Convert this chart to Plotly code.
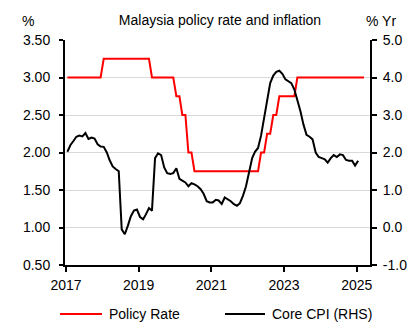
import pandas as pd
import plotly.graph_objects as go

# Monthly observations, January 2017 onwards
policy_rate = [
    3.00, 3.00, 3.00, 3.00, 3.00, 3.00, 3.00, 3.00, 3.00, 3.00, 3.00, 3.00,  # 2017
    3.25, 3.25, 3.25, 3.25, 3.25, 3.25, 3.25, 3.25, 3.25, 3.25, 3.25, 3.25,  # 2018
    3.25, 3.25, 3.25, 3.25, 3.00, 3.00, 3.00, 3.00, 3.00, 3.00, 3.00, 3.00,  # 2019
    2.75, 2.75, 2.50, 2.50, 2.00, 2.00, 1.75, 1.75, 1.75, 1.75, 1.75, 1.75,  # 2020
    1.75, 1.75, 1.75, 1.75, 1.75, 1.75, 1.75, 1.75, 1.75, 1.75, 1.75, 1.75,  # 2021
    1.75, 1.75, 1.75, 1.75, 2.00, 2.00, 2.25, 2.25, 2.50, 2.50, 2.75, 2.75,  # 2022
    2.75, 2.75, 2.75, 2.75, 3.00, 3.00, 3.00, 3.00, 3.00, 3.00, 3.00, 3.00,  # 2023
    3.00, 3.00, 3.00, 3.00, 3.00, 3.00, 3.00, 3.00, 3.00, 3.00, 3.00, 3.00,  # 2024
    3.00, 3.00, 3.00,                                                        # 2025
]

core_cpi = [
    2.02, 2.20, 2.30, 2.42, 2.45, 2.43, 2.52, 2.36, 2.40, 2.37, 2.22, 2.16,  # 2017
    2.15, 2.00, 1.80, 1.63, 1.56, 1.50, -0.05, -0.18, 0.05, 0.30, 0.45, 0.48,  # 2018
    0.28, 0.22, 0.35, 0.52, 0.45, 1.85, 1.98, 1.93, 1.60, 1.45, 1.43, 1.45,  # 2019
    1.58, 1.30, 1.25, 1.20, 1.10, 1.18, 1.15, 1.10, 1.02, 0.90, 0.70, 0.67,  # 2020
    0.67, 0.74, 0.72, 0.63, 0.80, 0.76, 0.70, 0.62, 0.58, 0.65, 0.85, 1.10,  # 2021
    1.50, 1.85, 2.02, 2.12, 2.45, 2.95, 3.45, 3.85, 4.05, 4.15, 4.18, 4.10,  # 2022
    3.95, 3.90, 3.85, 3.68, 3.40, 3.10, 2.75, 2.47, 2.42, 2.35, 2.00, 1.88,  # 2023
    1.85, 1.82, 1.73, 1.85, 1.93, 1.88, 1.95, 1.93, 1.80, 1.78, 1.78, 1.65,  # 2024
    1.78,                                                                    # 2025
]

# Mid-month observation dates
policy_dates = pd.date_range("2017-01-01", periods=len(policy_rate), freq="MS") + pd.Timedelta(days=14)
cpi_dates = pd.date_range("2017-01-01", periods=len(core_cpi), freq="MS") + pd.Timedelta(days=14)

x_ticks = ["2017-01-01", "2019-01-01", "2021-01-01", "2023-01-01", "2025-01-01"]
x_tick_text = ["2017", "2019", "2021", "2023", "2025"]

rhs_ticks = [-1, 0, 1, 2, 3, 4, 5]
rhs_tick_text = ["-1.0", "0.0", "1.0", "2.0", "3.0", "4.0", "5.0"]

series_names = ["Policy Rate", "Core CPI (RHS)"]
series_colors = ["#ff0000", "#000000"]

FONT = "Arial, 'Liberation Sans', sans-serif"
W, H = 413, 329
ML, MR, MT, MB = 65, 43, 40, 64
PW, PH = W - ML - MR, H - MT - MB


def px_x(px):
    return (px - ML) / PW


def px_y(py):
    return (H - MB - py) / PH


fig = go.Figure()
fig.add_trace(go.Scatter(
    x=policy_dates, y=policy_rate, mode="lines", name=series_names[0],
    line=dict(color=series_colors[0], width=2), yaxis="y",
))
fig.add_trace(go.Scatter(
    x=cpi_dates, y=core_cpi, mode="lines", name=series_names[1],
    line=dict(color=series_colors[1], width=2), yaxis="y2",
))

axis_font = dict(family=FONT, size=14, color="#000000")

fig.update_layout(
    width=W, height=H,
    margin=dict(l=ML, r=MR, t=MT, b=MB, autoexpand=False),
    paper_bgcolor="white", plot_bgcolor="white",
    showlegend=False,
    font=dict(family=FONT, size=14, color="#000000"),
    title=dict(
        text="Malaysia policy rate and inflation",
        x=220 / W, xanchor="center", xref="container",
        y=1 - 20 / H, yanchor="middle", yref="container",
        font=dict(family=FONT, size=14, color="#000000"),
    ),
    xaxis=dict(
        type="date", range=["2016-12-22", "2025-05-14"],
        tickvals=x_ticks, ticktext=x_tick_text,
        ticks="outside", ticklen=5, tickwidth=2, tickcolor="#000000",
        showline=True, linecolor="#000000", linewidth=2,
        showgrid=False, zeroline=False, tickfont=axis_font,
        ticklabelstandoff=1, automargin=False,
    ),
    yaxis=dict(
        range=[0.5, 3.5], dtick=0.5, tick0=0.5, tickformat=".2f",
        ticks="outside", ticklen=4, tickwidth=2, tickcolor="#000000",
        showline=True, linecolor="#000000", linewidth=2,
        showgrid=True, gridcolor="#d9d9d9", gridwidth=1,
        zeroline=False, tickfont=axis_font,
        ticklabelstandoff=6, automargin=False,
    ),
    yaxis2=dict(
        range=[-1, 5], tickvals=rhs_ticks, ticktext=rhs_tick_text,
        overlaying="y", side="right",
        ticks="outside", ticklen=5, tickwidth=2, tickcolor="#000000",
        showline=True, linecolor="#000000", linewidth=2,
        showgrid=False, zeroline=False, tickfont=axis_font,
        ticklabelstandoff=3, automargin=False,
    ),
)

# Axis unit labels
fig.add_annotation(text="%", x=px_x(28), y=px_y(21), xref="paper", yref="paper",
                   showarrow=False, xanchor="center", yanchor="middle",
                   font=dict(family=FONT, size=14, color="#000000"))
fig.add_annotation(text="% Yr", x=px_x(381), y=px_y(21), xref="paper", yref="paper",
                   showarrow=False, xanchor="center", yanchor="middle",
                   font=dict(family=FONT, size=14, color="#000000"))

# Legend drawn beneath the plot
legend_y = px_y(314)
legend_items = [(60, 102, 107), (225, 265, 270)]
for (x0, x1, xt), name, color in zip(legend_items, series_names, series_colors):
    fig.add_shape(type="line", xref="paper", yref="paper",
                  x0=px_x(x0), x1=px_x(x1), y0=legend_y, y1=legend_y,
                  line=dict(color=color, width=2))
    fig.add_annotation(text=name, x=px_x(xt), y=legend_y, xref="paper", yref="paper",
                       showarrow=False, xanchor="left", yanchor="middle",
                       font=dict(family=FONT, size=14, color="#000000"))

fig.write_html("out.html")
